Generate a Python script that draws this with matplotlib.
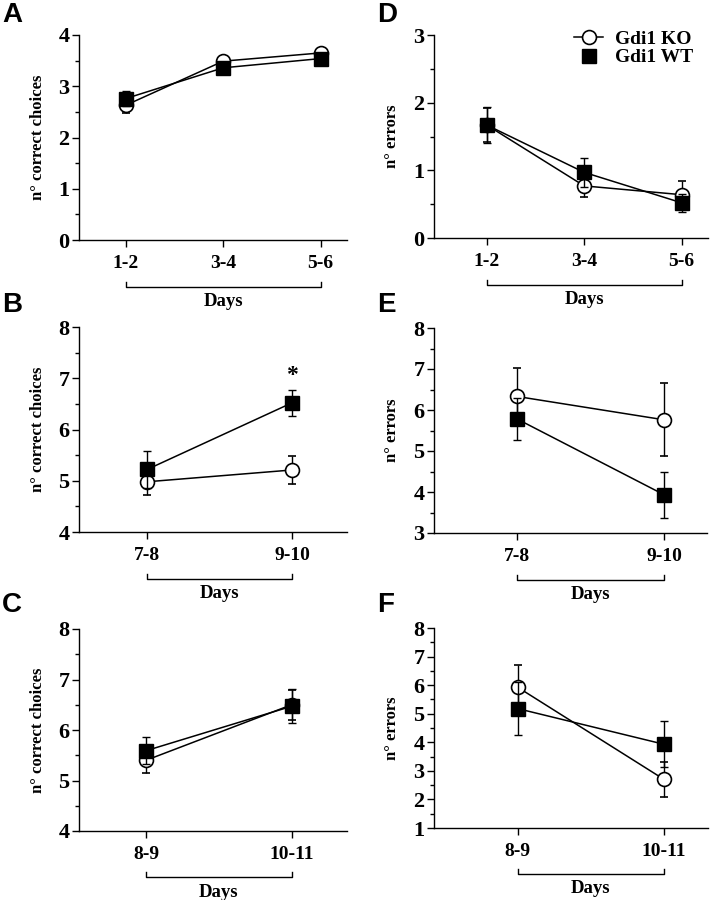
import matplotlib.pyplot as plt
from matplotlib.lines import Line2D
import matplotlib.transforms as mtransforms

# data: mean and s.e.m. per group
days_a = ['1-2', '3-4', '5-6']
ko_a = [2.63, 3.49, 3.65]
ko_a_err = [0.16, 0.06, 0.05]
wt_a = [2.76, 3.36, 3.54]
wt_a_err = [0.14, 0.06, 0.05]

days_d = ['1-2', '3-4', '5-6']
ko_d = [1.67, 0.77, 0.64]
ko_d_err = [0.25, 0.16, 0.20]
wt_d = [1.67, 0.97, 0.52]
wt_d_err = [0.26, 0.21, 0.13]

days_b = ['7-8', '9-10']
ko_b = [4.98, 5.21]
ko_b_err = [0.25, 0.27]
wt_b = [5.22, 6.52]
wt_b_err = [0.36, 0.26]

days_e = ['7-8', '9-10']
ko_e = [6.33, 5.76]
ko_e_err = [0.70, 0.89]
wt_e = [5.78, 3.93]
wt_e_err = [0.52, 0.56]

days_c = ['8-9', '10-11']
ko_c = [5.40, 6.50]
ko_c_err = [0.26, 0.30]
wt_c = [5.59, 6.47]
wt_c_err = [0.27, 0.34]

days_f = ['8-9', '10-11']
ko_f = [5.93, 2.70]
ko_f_err = [0.76, 0.60]
wt_f = [5.18, 3.93]
wt_f_err = [0.94, 0.81]

plt.rcParams['font.family'] = 'Liberation Serif'
plt.rcParams['font.weight'] = 'bold'

W, H = 713, 900
fig = plt.figure(figsize=(W / 100, H / 100), dpi=100)


def make_axes(left, right, top, bottom):
    return fig.add_axes([left / W, 1 - bottom / H, (right - left) / W, (bottom - top) / H])


def panel(ax, days, ko, ko_err, wt, wt_err, ylim, ylabel, xlim):
    x = list(range(len(days)))
    ax.errorbar(x, ko, yerr=ko_err, fmt='-o', color='black', mfc='white', mec='black',
                ms=10, mew=1.2, lw=1.1, capsize=3, elinewidth=1, capthick=1, zorder=3)
    ax.errorbar(x, wt, yerr=wt_err, fmt='-s', color='black', mfc='black', mec='black',
                ms=10, lw=1.1, capsize=3, elinewidth=1, capthick=1, zorder=4)
    ax.set_xlim(xlim)
    ax.set_ylim(ylim)
    ax.set_xticks(x)
    ax.set_xticklabels(days, fontsize=14, fontweight='bold')
    ax.set_yticks(range(ylim[0], ylim[1] + 1))
    ax.set_yticks([v + 0.5 for v in range(ylim[0], ylim[1])], minor=True)
    ax.tick_params(axis='y', labelsize=16, length=5, width=1, pad=2)
    ax.tick_params(axis='y', which='minor', length=3, width=1)
    ax.tick_params(axis='x', length=5, width=1, pad=6)
    for lab in ax.get_yticklabels():
        lab.set_fontweight('bold')
    ax.spines['top'].set_visible(False)
    ax.spines['right'].set_visible(False)
    ax.spines['left'].set_linewidth(1)
    ax.spines['bottom'].set_linewidth(1)
    ax.set_ylabel(ylabel, fontsize=12, fontweight='bold')
    ax.yaxis.set_label_coords(-0.125, 0.5)
    # bracket under the day labels
    trans = mtransforms.blended_transform_factory(ax.transData, ax.transAxes)
    xb = [x[0], x[0], x[-1], x[-1]]
    yb = [-0.205, -0.23, -0.23, -0.205]
    ax.plot(xb, yb, color='black', lw=1, transform=trans, clip_on=False)
    ax.text((x[0] + x[-1]) / 2, -0.26, 'Days', transform=trans, ha='center', va='top',
            fontsize=13.5, fontweight='bold')


axA = make_axes(79, 347, 35, 240)
panel(axA, days_a, ko_a, ko_a_err, wt_a, wt_a_err, (0, 4), 'n° correct choices', (-0.48, 2.27))

axD = make_axes(434, 708, 35, 238)
panel(axD, days_d, ko_d, ko_d_err, wt_d, wt_d_err, (0, 3), 'n° errors', (-0.54, 2.27))

axB = make_axes(79, 347, 327, 532)
panel(axB, days_b, ko_b, ko_b_err, wt_b, wt_b_err, (4, 8), 'n° correct choices', (-0.47, 1.38))
axB.text(1, 6.85, '*', ha='center', va='bottom', fontsize=17, fontweight='bold')

axE = make_axes(434, 707, 328, 533)
panel(axE, days_e, ko_e, ko_e_err, wt_e, wt_e_err, (3, 8), 'n° errors', (-0.565, 1.29))

axC = make_axes(79, 347, 629, 831)
panel(axC, days_c, ko_c, ko_c_err, wt_c, wt_c_err, (4, 8), 'n° correct choices', (-0.46, 1.38))

axF = make_axes(434, 708, 628, 828)
panel(axF, days_f, ko_f, ko_f_err, wt_f, wt_f_err, (1, 8), 'n° errors', (-0.57, 1.3))

# panel letters
letters = ['A', 'D', 'B', 'E', 'C', 'F']
letter_pos = [(2, 2), (377, 2), (2, 292), (377, 292), (2, 592), (377, 592)]
for letter, (px, py) in zip(letters, letter_pos):
    fig.text(px / W, 1 - py / H, letter, fontsize=20, fontweight='bold',
             family='Liberation Sans', ha='left', va='top')

handles = [
    Line2D([0], [0], color='black', lw=1.1, marker='o', mfc='white', mec='black', ms=10, mew=1.2),
    Line2D([0], [0], color='none', marker='s', mfc='black', mec='black', ms=10),
]
axD.legend(handles, ['Gdi1 KO', 'Gdi1 WT'], loc='upper right', bbox_to_anchor=(1.01, 1.11),
           frameon=False, prop={'family': 'Liberation Serif', 'weight': 'bold', 'size': 14},
           handlelength=1.5, handletextpad=0.6, labelspacing=0.05)

fig.savefig('out.png', dpi=100)
